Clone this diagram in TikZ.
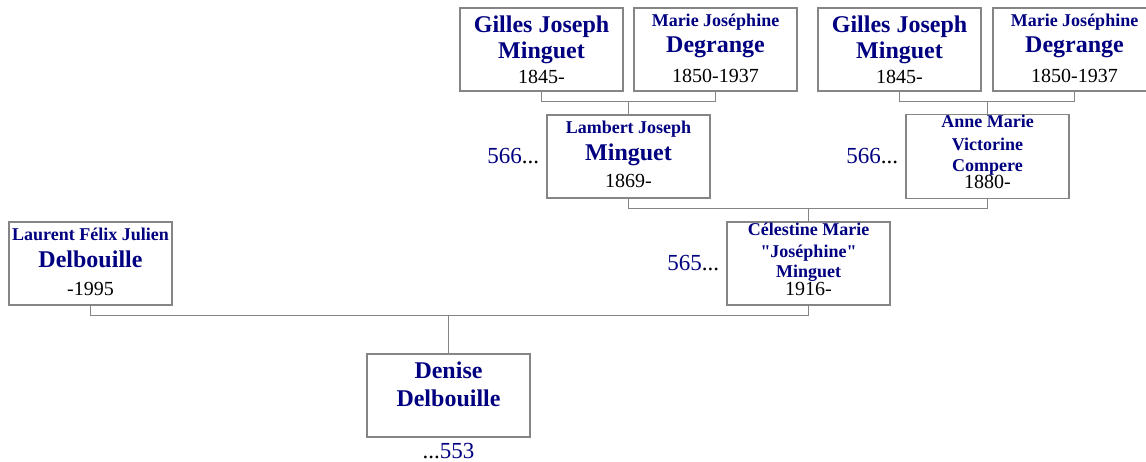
\documentclass[tikz,border=0pt]{standalone}
\usepackage{fontspec}
\setmainfont{Liberation Serif}[Ligatures=TeXOff]
\usetikzlibrary{positioning}
\definecolor{ftname}{HTML}{000080}
\definecolor{ftline}{HTML}{858585}
\newcommand\ftfirst{\bfseries\color{ftname}\fontsize{18}{22}\selectfont}
\newcommand\ftlast{\bfseries\color{ftname}\fontsize{24}{28}\selectfont}
\tikzset{
  every node/.style = {font=\fontsize{20}{25}\selectfont},
  ftbox/.style  = {draw=ftline, line width=1.3pt, fill=white, align=center, inner sep=0pt,
                   minimum width=163pt, minimum height=83pt},
  ftlink/.style = {draw=ftline, line width=1.2pt},
  ftref/.style  = {inner sep=0pt, text=ftname, font=\fontsize{23}{25}\selectfont},
}

\begin{document}
\begin{tikzpicture}[x=1pt, y=-1pt]
\useasboundingbox (0,0) rectangle (1146,461);

% great-grandparents
\node[ftbox] (gilles1) at (541.5,49.5) {{\ftlast Gilles Joseph}\\[1pt]{\ftlast Minguet}\\1845-};
\node[ftbox, text depth=2pt] (marie1) at (715.5,49.5) {{\ftfirst Marie Joséphine}\\[1pt]{\ftlast Degrange}\\[5pt]1850-1937};
\node[ftbox] (gilles2) at (899.5,49.5) {{\ftlast Gilles Joseph}\\[1pt]{\ftlast Minguet}\\1845-};
\node[ftbox, text depth=2pt] (marie2) at (1074.5,49.5) {{\ftfirst Marie Joséphine}\\[1pt]{\ftlast Degrange}\\[5pt]1850-1937};

% grandparents
\node[ftbox, text depth=4pt] (lambert) at (628.5,156.5) {{\ftfirst Lambert Joseph}\\[2pt]{\ftlast Minguet}\\[2pt]1869-};
\node[ftbox, text depth=10pt] (anne) at (987.5,156.5) {{\ftfirst Anne Marie}\\[-2pt]{\ftfirst Victorine}\\[-4pt]{\ftfirst Compere}\\[-8pt]1880-};

% parents
\node[ftbox, text depth=4pt] (laurent) at (90.5,263.5) {{\ftfirst Laurent Félix Julien}\\[2pt]{\ftlast Delbouille}\\[3pt]-1995};
\node[ftbox, text depth=8pt] (celestine) at (808.5,263.5) {{\ftfirst Célestine Marie}\\[-3pt]{\ftfirst "Joséphine"}\\[-5pt]{\ftfirst Minguet}\\[-7pt]1916-};

% root
\node[ftbox, text depth=23pt] (denise) at (448.5,395.5) {{\ftlast Denise}\\[3pt]{\ftlast Delbouille}};

% numbers
\node[ftref, left=7pt of lambert] (ref566a) {566\textcolor{black}{...}};
\node[ftref, left=7pt of anne] (ref566b) {566\textcolor{black}{...}};
\node[ftref, left=7pt of celestine] (ref565) {565\textcolor{black}{...}};
\node[ftref, below=5pt of denise] (ref553) {\textcolor{black}{...}553};

\foreach \f/\m/\c in {gilles1/marie1/lambert, gilles2/marie2/anne,
                      lambert/anne/celestine, laurent/celestine/denise}{
  \draw[ftlink] (\f.south) -- ++(0,10) coordinate (bar) -| (\m.south);
  \draw[ftlink] (\c.north) -- (\c.north |- bar);
}
\end{tikzpicture}
\end{document}
